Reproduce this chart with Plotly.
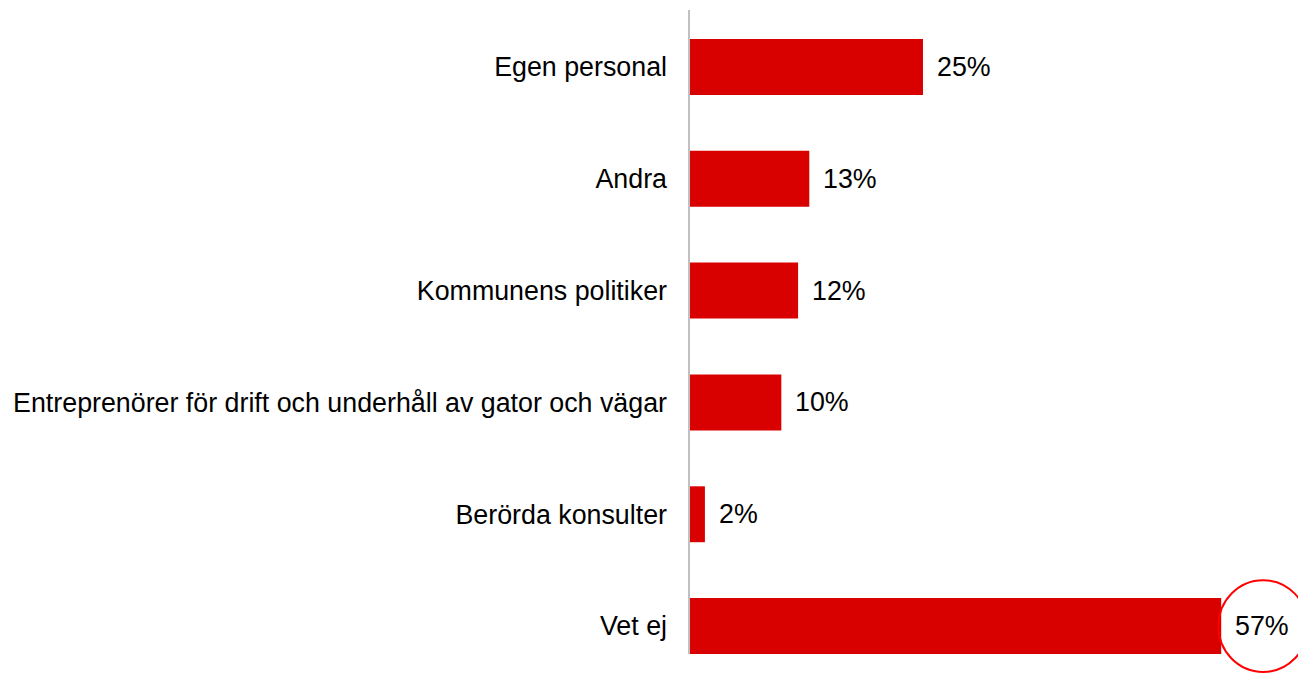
import plotly.graph_objects as go

categories = [
    "Egen personal",
    "Andra",
    "Kommunens politiker",
    "Entreprenörer för drift och underhåll av gator och vägar",
    "Berörda konsulter",
    "Vet ej",
]
values = [25.0, 12.8, 11.6, 9.8, 1.6, 57.0]
labels = ["25%", "13%", "12%", "10%", "2%", "57%"]

BAR_COLOR = "#D90000"
FONT = "Liberation Sans, Arial, sans-serif"
FS = 26.8

fig = go.Figure()
fig.add_trace(go.Bar(
    x=values,
    y=categories,
    orientation="h",
    marker=dict(color=BAR_COLOR, line=dict(width=0)),
    hoverinfo="skip",
))

for cat, v, lab in zip(categories, values, labels):
    fig.add_annotation(
        x=v, y=cat, text=lab, showarrow=False,
        xanchor="left", xshift=12,
        font=dict(family=FONT, size=FS, color="#000000"),
    )

# highlight circle around the largest value label
vmax = values[-1]
fig.add_shape(
    type="circle", xref="x", yref="y",
    x0=vmax - 0.3, x1=vmax + 9.3,
    y0=len(categories) - 1 - 0.41, y1=len(categories) - 1 + 0.41,
    line=dict(color="#FF0000", width=2),
)

# vertical axis line
fig.add_shape(
    type="line", xref="paper", yref="paper",
    x0=-0.0016, x1=-0.0016, y0=0.0417, y1=1.0015,
    line=dict(color="#C0C0C0", width=2),
)

fig.update_layout(
    width=1298, height=674,
    margin=dict(l=682, r=0, t=3, b=0),
    paper_bgcolor="white", plot_bgcolor="white",
    bargap=0.5,
    showlegend=False,
    font=dict(family=FONT, size=FS, color="#000000"),
    xaxis=dict(range=[0, 66.1], visible=False, fixedrange=True),
    yaxis=dict(
        autorange="reversed", showgrid=False, zeroline=False, showline=False,
        ticks="", ticklabelstandoff=22,
        tickfont=dict(family=FONT, size=FS, color="#000000"),
        fixedrange=True,
    ),
)

fig.write_html("out.html")
